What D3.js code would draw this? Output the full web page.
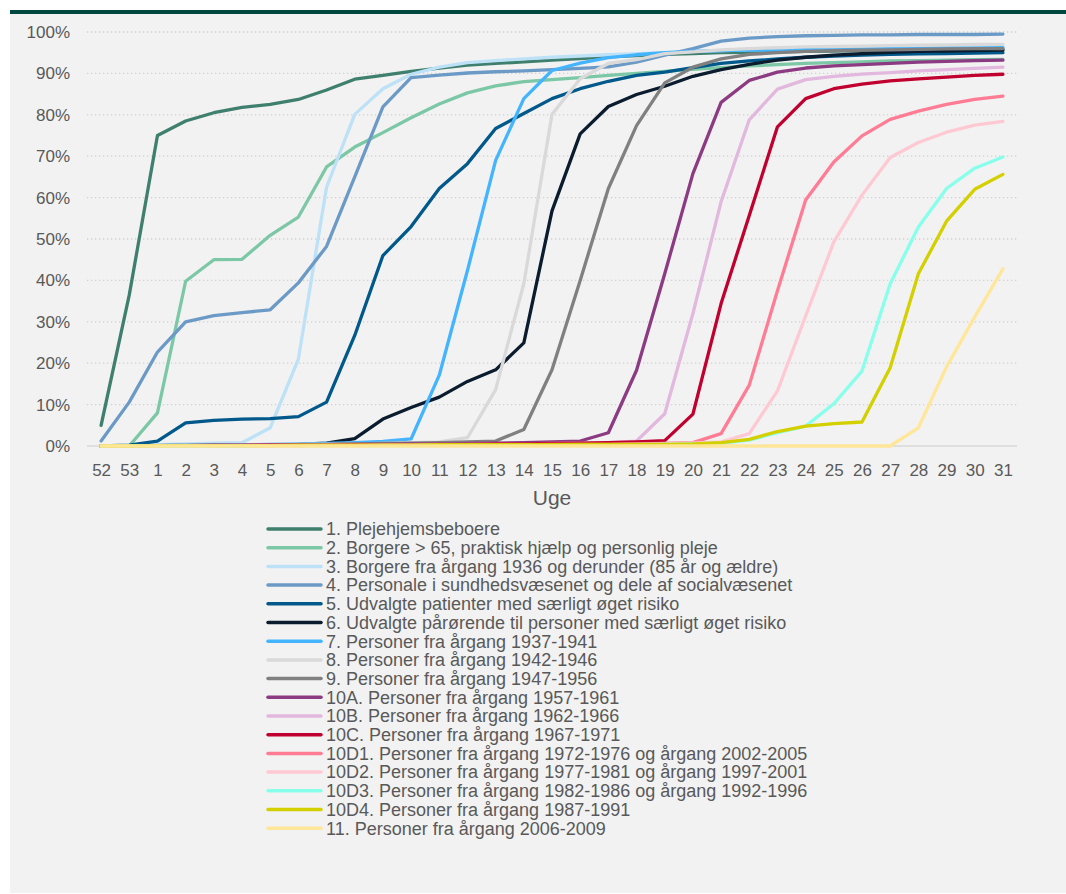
<!DOCTYPE html>
<html>
<head>
<meta charset="utf-8">
<script src="https://cdn.jsdelivr.net/npm/d3@7"></script>
<style>
  body { margin: 0; background: #fff; }
  svg text { font-family: "Liberation Sans", Arial, sans-serif; fill: #595959; }
</style>
</head>
<body>
<div id="chart"></div>
<script>
// week labels
var weeks = ['52','53','1','2','3','4','5','6','7','8','9','10','11','12','13','14','15','16','17','18','19','20','21','22','23','24','25','26','27','28','29','30','31'];

var yTicks = [0,10,20,30,40,50,60,70,80,90,100];

var seriesNames = [
    '1. Plejehjemsbeboere',
    '2. Borgere > 65, praktisk hjælp og personlig pleje',
    '3. Borgere fra årgang 1936 og derunder (85 år og ældre)',
    '4. Personale i sundhedsvæsenet og dele af socialvæsenet',
    '5. Udvalgte patienter med særligt øget risiko',
    '6. Udvalgte pårørende til personer med særligt øget risiko',
    '7. Personer fra årgang 1937-1941',
    '8. Personer fra årgang 1942-1946',
    '9. Personer fra årgang 1947-1956',
    '10A. Personer fra årgang 1957-1961',
    '10B. Personer fra årgang 1962-1966',
    '10C. Personer fra årgang 1967-1971',
    '10D1. Personer fra årgang 1972-1976 og årgang 2002-2005',
    '10D2. Personer fra årgang 1977-1981 og årgang 1997-2001',
    '10D3. Personer fra årgang 1982-1986 og årgang 1992-1996',
    '10D4. Personer fra årgang 1987-1991',
    '11. Personer fra årgang 2006-2009'
];

var seriesColors = ['#3F7F6E','#7CC8A6','#BDE1F7','#6C9AC6','#00598A','#0A1C2E','#45B4FF','#D9D9D9','#808080',
                    '#8C3B82','#E2B8DE','#C0002E','#FF7C94','#FFC9D3','#87FFEA','#D4D000','#FFE699'];

// cumulative share (%) per week
var s1  = [5,36.5,75,78.5,80.5,81.8,82.5,83.7,86,88.6,89.5,90.5,91.3,92,92.4,92.8,93.2,93.6,94,94.3,94.6,94.8,95,95.1,95.2,95.3,95.4,95.5,95.6,95.6,95.7,95.7,95.8];
var s2  = [0,0,8,39.8,45,45.1,50.9,55.3,67.4,72.2,75.7,79.3,82.6,85.3,87,88,88.5,89,89.5,90,90.5,91,91.4,91.8,92.1,92.4,92.6,92.8,93,93.1,93.2,93.3,93.4];
var s3  = [0,0,0.3,0.5,0.7,0.8,4.4,21,62.5,80.1,86.3,89.8,91.5,92.6,93.1,93.5,93.9,94.2,94.5,94.8,95,95.3,95.5,95.7,95.8,96,96.1,96.2,96.3,96.4,96.4,96.5,96.5];
var s4  = [1.2,10.6,22.7,30,31.5,32.2,32.9,39.4,48.2,65,81.9,89,89.6,90.1,90.4,90.6,90.9,91.2,91.6,92.7,94.4,96,97.8,98.5,98.9,99.1,99.2,99.3,99.3,99.4,99.4,99.4,99.5];
var s5  = [0,0.2,1.2,5.6,6.2,6.5,6.6,7.1,10.6,26.7,46,53,62.2,68.2,76.7,80.3,83.9,86.3,88.1,89.5,90.3,91.4,92.4,93,93.5,93.9,94.2,94.4,94.6,94.7,94.8,94.9,95];
var s6  = [0,0,0.1,0.2,0.2,0.3,0.3,0.4,0.7,1.8,6.5,9.3,11.8,15.6,18.4,24.9,56.8,75.4,82,84.9,86.9,89.3,90.9,92.2,93.2,93.9,94.4,94.8,95.1,95.3,95.4,95.5,95.6];
var s7  = [0,0,0.1,0.2,0.3,0.3,0.4,0.5,0.6,0.8,1.1,1.7,17.1,42.4,69,83.9,90.7,92.5,93.8,94.5,95,95.3,95.5,95.6,95.7,95.8,95.9,95.9,96,96,96.1,96.1,96.2];
var s8  = [0,0,0.1,0.2,0.2,0.3,0.3,0.4,0.4,0.5,0.6,0.8,1,2,13.6,39.2,80.1,88.7,92.4,93.3,94.8,95.2,95.7,96,96.2,96.4,96.5,96.6,96.7,96.8,96.9,97,97];
var s9  = [0,0,0.1,0.1,0.2,0.2,0.3,0.3,0.4,0.5,0.6,0.7,0.8,1,1.2,4,18.4,40,62.2,77.4,87.7,91.5,93.5,94.6,95,95.3,95.5,95.6,95.7,95.8,95.9,96,96];
var s10a = [0,0,0.1,0.1,0.2,0.2,0.2,0.3,0.3,0.4,0.4,0.5,0.5,0.6,0.7,0.8,1,1.2,3.2,18.3,41.6,65.8,83,88.3,90.3,91.3,91.8,92.1,92.4,92.7,92.9,93.1,93.2];
var s10b = [0,0,0,0.1,0.1,0.1,0.2,0.2,0.2,0.3,0.3,0.3,0.4,0.4,0.5,0.5,0.6,0.7,0.8,1.2,7.8,32,59,78.8,86.2,88.5,89.3,89.8,90.2,90.6,90.9,91.2,91.5];
var s10c = [0,0,0,0.1,0.1,0.1,0.2,0.2,0.2,0.3,0.3,0.3,0.4,0.4,0.5,0.5,0.6,0.7,0.8,1,1.3,7.7,34.4,55.7,77.1,83.9,86.3,87.4,88.2,88.7,89.1,89.5,89.8];
var s10d1 = [0,0,0,0,0.1,0.1,0.1,0.1,0.2,0.2,0.2,0.2,0.3,0.3,0.3,0.3,0.4,0.4,0.4,0.5,0.6,0.8,3,14.7,37.5,59.4,68.6,74.9,78.9,80.9,82.5,83.7,84.5];
var s10d2 = [0,0,0,0,0,0.1,0.1,0.1,0.1,0.1,0.2,0.2,0.2,0.2,0.2,0.3,0.3,0.3,0.3,0.4,0.5,0.7,1,3,13.3,31.4,49.3,60.6,69.7,73.3,75.8,77.5,78.4];
var s10d3 = [0,0,0,0,0,0,0.1,0.1,0.1,0.1,0.1,0.1,0.2,0.2,0.2,0.2,0.2,0.3,0.3,0.3,0.4,0.5,0.7,1.4,3.2,4.8,10.2,18.1,39.2,52.9,62.2,67.1,69.8];
var s10d4 = [0,0,0.1,0.1,0.1,0.1,0.1,0.2,0.2,0.2,0.2,0.2,0.3,0.3,0.3,0.3,0.3,0.4,0.4,0.4,0.4,0.5,0.8,1.6,3.5,4.8,5.4,5.8,18.9,41.6,54.3,62,65.6];
var s11  = [0,0,0,0,0,0,0,0,0,0,0,0,0,0,0,0,0,0,0,0,0,0,0,0,0,0,0,0,0,4.4,19.1,31.2,42.8];

var allSeries = [s1,s2,s3,s4,s5,s6,s7,s8,s9,s10a,s10b,s10c,s10d1,s10d2,s10d3,s10d4,s11];

function renderChart() {
    var W = 1066, H = 894;
    var svg = d3.select('#chart').append('svg').attr('width', W).attr('height', H);

    // panel + top bar
    svg.append('rect').attr('x', 10).attr('y', 13).attr('width', W - 10).attr('height', 880).attr('fill', '#F2F2F2');
    svg.append('rect').attr('x', 10).attr('y', 10).attr('width', W - 10).attr('height', 4).attr('fill', '#00473F');

    var pLeft = 87, pRight = 1017, pTop = 32, pBottom = 446;
    var x = d3.scalePoint().domain(weeks).range([pLeft, pRight]).padding(0.5);
    var y = d3.scaleLinear().domain([0, 100]).range([pBottom, pTop]);

    // gridlines
    svg.append('g').selectAll('line').data(yTicks.filter(function(t){ return t > 0; })).join('line')
        .attr('x1', pLeft).attr('x2', pRight)
        .attr('y1', function(d){ return y(d); }).attr('y2', function(d){ return y(d); })
        .attr('stroke', '#D0D0D0').attr('stroke-width', 1.3)
        .attr('stroke-dasharray', '1.3,2.7');
    svg.append('line').attr('x1', pLeft).attr('x2', pRight).attr('y1', y(0)).attr('y2', y(0))
        .attr('stroke', '#D9D9D9').attr('stroke-width', 1.5);

    // y axis labels
    var yAxis = d3.axisLeft(y).tickValues(yTicks).tickFormat(function(d){ return d + '%'; }).tickSize(0).tickPadding(0);
    var yg = svg.append('g').attr('transform', 'translate(70,0)').call(yAxis);
    yg.select('.domain').remove();
    yg.selectAll('text').attr('font-size', 17).attr('fill', '#595959').attr('font-family', null);

    // x axis labels
    var xAxis = d3.axisBottom(x).tickSize(0).tickPadding(0);
    var xg = svg.append('g').attr('transform', 'translate(0,464)').call(xAxis);
    xg.select('.domain').remove();
    xg.selectAll('text').attr('font-size', 17).attr('fill', '#595959').attr('font-family', null);

    svg.append('text').attr('x', (pLeft + pRight) / 2).attr('y', 505).attr('text-anchor', 'middle')
        .attr('font-size', 21).text('Uge');

    // lines
    var line = d3.line()
        .x(function(d, i){ return x(weeks[i]); })
        .y(function(d){ return y(d); });

    svg.append('g').selectAll('path').data(allSeries).join('path')
        .attr('d', line)
        .attr('fill', 'none')
        .attr('stroke', function(d, i){ return seriesColors[i]; })
        .attr('stroke-width', 3.3)
        .attr('stroke-linejoin', 'round')
        .attr('stroke-linecap', 'round');

    // legend
    var lg = svg.append('g').selectAll('g').data(seriesNames).join('g')
        .attr('transform', function(d, i){ return 'translate(268,' + (529 + i * 18.7) + ')'; });
    lg.append('line').attr('x1', 0).attr('x2', 53).attr('y1', 0).attr('y2', 0)
        .attr('stroke', function(d, i){ return seriesColors[i]; })
        .attr('stroke-width', 3.5).attr('stroke-linecap', 'round');
    lg.append('text').attr('x', 58).attr('y', 6.3).attr('font-size', 18).text(function(d){ return d; });
}

renderChart();
</script>
</body>
</html>
